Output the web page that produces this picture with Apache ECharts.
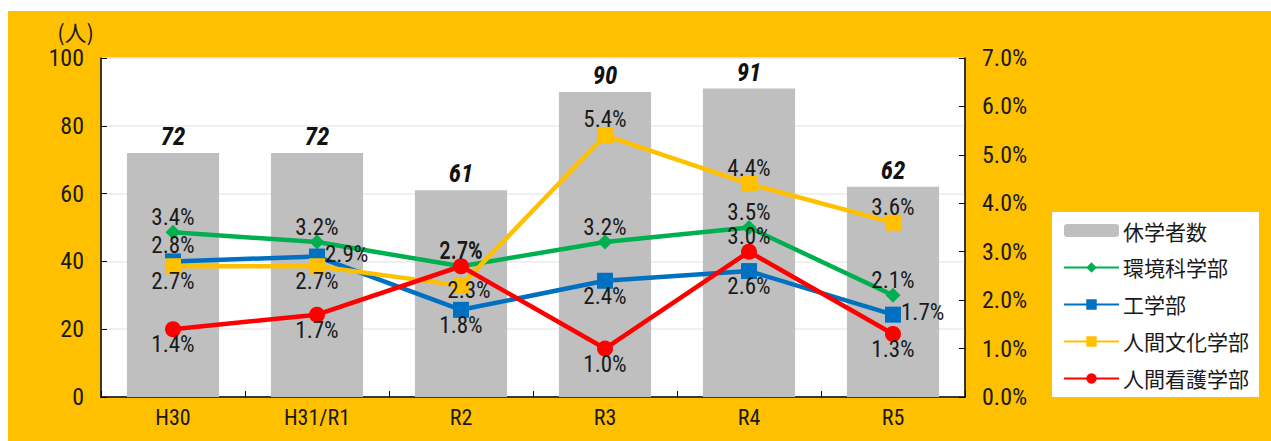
<!DOCTYPE html>
<html>
<head>
<meta charset="utf-8">
<script src="https://cdn.jsdelivr.net/npm/echarts@6/dist/echarts.min.js"></script>
<style>
html,body{margin:0;padding:0;background:#fff;}
#wrap{position:absolute;left:8px;top:11px;width:1263px;height:430px;background:#ffc000;}
#chart{width:1263px;height:430px;}
#chart text{font-stretch:condensed !important;}
</style>
</head>
<body>
<div id="wrap"><div id="chart"></div></div>
<script>
const categories = ['H30', 'H31/R1', 'R2', 'R3', 'R4', 'R5'];
const leaveCount = [72, 72, 61, 90, 91, 62];
const envSci = [3.4, 3.2, 2.7, 3.2, 3.5, 2.1];
const engineering = [2.8, 2.9, 1.8, 2.4, 2.6, 1.7];
const humanCulture = [2.7, 2.7, 2.3, 5.4, 4.4, 3.6];
const humanNursing = [1.4, 1.7, 2.7, 1.0, 3.0, 1.3];
const seriesNames = ['休学者数', '環境科学部', '工学部', '人間文化学部', '人間看護学部'];
const leftAxisName = '(人)';

// label placement per point (style, not data)
const posEnv = ['top', 'top', 'top', 'top', 'top', 'top'];
const posEng = ['top', 'right', 'bottom', 'bottom', 'bottom', 'right'];
const posCul = ['bottom', 'bottom', 'inside', 'top', 'top', 'top'];
const posNur = ['bottom', 'bottom', 'top', 'bottom', 'top', 'bottom'];

const NARROW = 'Roboto,"DejaVu Sans Condensed",sans-serif';
const CJK = '"Noto Sans CJK JP","Noto Sans",sans-serif';

function pctItems(vals, pos) {
  return vals.map((v, i) => {
    const it = { value: v, label: { position: pos[i] } };
    if (pos[i] === 'inside') it.label.offset = [8, 5];
    if (pos[i] === 'right') { it.label.distance = 0; it.label.offset = [0, -2]; }
    return it;
  });
}

function lineSeries(name, vals, pos, color, symbol, size) {
  return {
    name: name,
    type: 'line',
    yAxisIndex: 1,
    data: pctItems(vals, pos),
    symbol: symbol,
    symbolSize: size,
    lineStyle: { color: color, width: 4.5 },
    itemStyle: { color: color },
    label: {
      show: true,
      fontFamily: NARROW,
      fontSize: 23,
      color: '#1a1a1a',
      distance: -4,
      formatter: p => p.value.toFixed(1) + '%'
    },
    emphasis: { disabled: true },
    z: 3
  };
}

const chart = echarts.init(document.getElementById('chart'), null, { renderer: 'svg' });
chart.setOption({
  animation: false,
  textStyle: { fontFamily: NARROW },
  grid: {
    left: 93, right: 306, top: 47, bottom: 44,
    show: true, backgroundColor: '#ffffff', borderColor: '#c8c8c8', borderWidth: 1
  },
  legend: {
    orient: 'vertical',
    left: 1044, top: 201,
    backgroundColor: '#ffffff',
    padding: [8, 10, 8, 11],
    itemGap: 16,
    itemWidth: 55,
    itemHeight: 13,
    textStyle: { fontFamily: CJK, fontSize: 21, color: '#1a1a1a', padding: [0, 0, 0, -1] },
    data: seriesNames
  },
  xAxis: {
    type: 'category',
    data: categories,
    boundaryGap: true,
    axisLine: { lineStyle: { color: '#000', width: 1.5 } },
    axisTick: { show: true, inside: true, length: 6, lineStyle: { color: '#000' } },
    axisLabel: { fontFamily: NARROW, fontSize: 22, color: '#1a1a1a', margin: 9 }
  },
  yAxis: [
    {
      type: 'value',
      min: 0, max: 100, interval: 20,
      name: leftAxisName,
      nameLocation: 'end',
      nameGap: 16,
      nameTextStyle: { fontFamily: CJK, fontSize: 22, color: '#1a1a1a', align: 'right', padding: [0, 7, 0, 0] },
      axisLine: { show: true, lineStyle: { color: '#000', width: 1.5 } },
      axisTick: { show: true, inside: true, length: 6, lineStyle: { color: '#000' } },
      axisLabel: { fontFamily: NARROW, fontSize: 24, color: '#1a1a1a', margin: 17 },
      splitLine: { show: true, lineStyle: { color: '#ebebeb', width: 1.5 } }
    },
    {
      type: 'value',
      min: 0, max: 7, interval: 1,
      position: 'right',
      axisLine: { show: true, lineStyle: { color: '#000', width: 1.5 } },
      axisTick: { show: true, inside: true, length: 6, lineStyle: { color: '#000' } },
      axisLabel: { fontFamily: NARROW, fontSize: 24, color: '#1a1a1a', margin: 17, formatter: v => v.toFixed(1) + '%' },
      splitLine: { show: false }
    }
  ],
  series: [
    {
      name: seriesNames[0],
      type: 'bar',
      data: leaveCount,
      barWidth: '64%',
      itemStyle: { color: '#bfbfbf' },
      label: {
        show: true, position: 'top', distance: 4,
        fontFamily: NARROW, fontSize: 25, fontStyle: 'italic', fontWeight: 'bold', color: '#111'
      },
      emphasis: { disabled: true },
      z: 2
    },
    lineSeries(seriesNames[1], envSci, posEnv, '#00b050', 'diamond', 15),
    lineSeries(seriesNames[2], engineering, posEng, '#0070c0', 'rect', 16),
    lineSeries(seriesNames[3], humanCulture, posCul, '#ffc000', 'rect', 16),
    lineSeries(seriesNames[4], humanNursing, posNur, '#ff0000', 'circle', 16)
  ]
});
</script>
</body>
</html>
